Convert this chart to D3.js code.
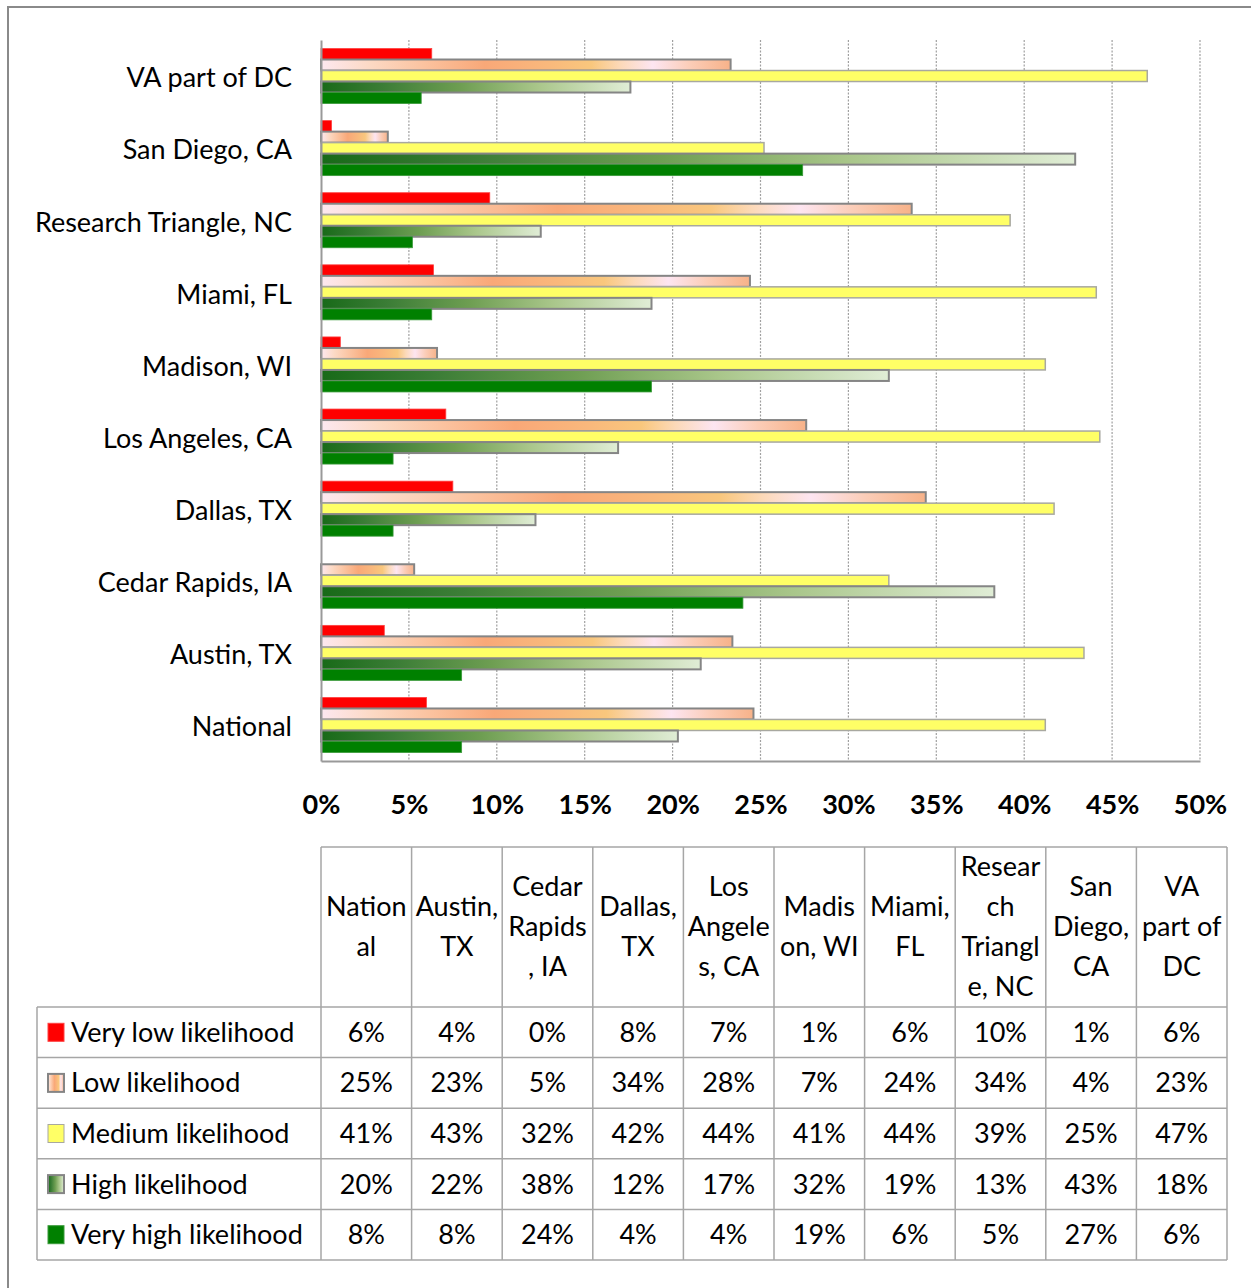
<!DOCTYPE html>
<html>
<head>
<meta charset="utf-8">
<script src="https://cdn.jsdelivr.net/npm/d3@7"></script>
<style>
  html, body { margin: 0; padding: 0; background: #fff; }
  svg { display: block; }
  text { font-family: Lato, "Noto Sans", sans-serif; fill: #000; }
</style>
</head>
<body>
<svg id="chart" width="1251" height="1288"></svg>
<script>
// Categories (table column order; the bar chart lists them bottom-up)
const categories = ["National", "Austin, TX", "Cedar Rapids, IA", "Dallas, TX", "Los Angeles, CA",
  "Madison, WI", "Miami, FL", "Research Triangle, NC", "San Diego, CA", "VA part of DC"];

// Wrapped column headings for the data table
const headerLines = [["Nation", "al"], ["Austin,", "TX"], ["Cedar", "Rapids", ", IA"], ["Dallas,", "TX"],
  ["Los", "Angele", "s, CA"], ["Madis", "on, WI"], ["Miami,", "FL"], ["Resear", "ch", "Triangl", "e, NC"],
  ["San", "Diego,", "CA"], ["VA", "part of", "DC"]];

const seriesNames = ["Very low likelihood", "Low likelihood", "Medium likelihood", "High likelihood", "Very high likelihood"];

// Percent of respondents per likelihood level
const veryLow  = [6.0, 3.6, 0.0, 7.5, 7.1, 1.1, 6.4, 9.6, 0.6, 6.3];
const low      = [24.6, 23.4, 5.3, 34.4, 27.6, 6.6, 24.4, 33.6, 3.8, 23.3];
const medium   = [41.2, 43.4, 32.3, 41.7, 44.3, 41.2, 44.1, 39.2, 25.2, 47.0];
const high     = [20.3, 21.6, 38.3, 12.2, 16.9, 32.3, 18.8, 12.5, 42.9, 17.6];
const veryHigh = [8.0, 8.0, 24.0, 4.1, 4.1, 18.8, 6.3, 5.2, 27.4, 5.7];

const xTicks = [0, 5, 10, 15, 20, 25, 30, 35, 40, 45, 50];

const seriesValues = [veryLow, low, medium, high, veryHigh];
const fmt = v => Math.round(v) + "%";

const svg = d3.select("#chart");
svg.append("rect").attr("width", 1251).attr("height", 1288).attr("fill", "#fff");

// Gradients
const defs = svg.append("defs");
const gLow = defs.append("linearGradient").attr("id", "gradLow");
[[0, "#fde8f0"], [0.12, "#fcd9c4"], [0.25, "#fbc3a0"], [0.4, "#f9a878"], [0.55, "#f9b87c"],
 [0.66, "#f9c77d"], [0.73, "#fcd9b8"], [0.81, "#fde5f1"], [0.9, "#fbcdb8"], [1, "#f7b289"]]
  .forEach(([o, c]) => gLow.append("stop").attr("offset", o).attr("stop-color", c));
const gHigh = defs.append("linearGradient").attr("id", "gradHigh");
[[0, "#186a18"], [0.2, "#3b7d36"], [0.45, "#6e9e52"], [0.7, "#a9c68a"], [1, "#e0edd6"]]
  .forEach(([o, c]) => gHigh.append("stop").attr("offset", o).attr("stop-color", c));

const fills = ["#ff0000", "url(#gradLow)", "#ffff66", "url(#gradHigh)", "#008000"];
const strokes = ["#ff4040", "#858585", "#a8a8a0", "#858585", "#3a9a3a"];
const strokeW = [0.8, 2, 1.5, 2, 0.8];

// Outer frame
svg.append("path").attr("d", "M8,1288 V7 H1251").attr("fill", "none")
  .attr("stroke", "#8a8a8a").attr("stroke-width", 2);

// Bar chart
const plotLeft = 321, plotRight = 1200, plotTop = 40, plotBottom = 761;
const x = d3.scaleLinear().domain([0, 50]).range([plotLeft, plotRight]);
const y = d3.scaleBand().domain(categories.slice().reverse()).range([plotTop, plotBottom])
  .paddingInner(0.237).paddingOuter(0.118);
const ySub = d3.scaleBand().domain(d3.range(5)).range([0, y.bandwidth()]);

// Dotted gridlines
svg.append("g").selectAll("line").data(xTicks.slice(1)).join("line")
  .attr("x1", d => x(d)).attr("x2", d => x(d))
  .attr("y1", plotTop).attr("y2", plotBottom)
  .attr("stroke", "#a0a0a0").attr("stroke-width", 1.2).attr("stroke-dasharray", "2,1.5");

// Bars
const bars = svg.append("g");
categories.forEach((cat, ci) => {
  seriesValues.forEach((vals, si) => {
    const v = vals[ci];
    if (v <= 0) return;
    bars.append("rect")
      .attr("x", x(0))
      .attr("y", y(cat) + ySub(si))
      .attr("width", x(v) - x(0))
      .attr("height", ySub.bandwidth())
      .attr("fill", fills[si])
      .attr("stroke", strokes[si])
      .attr("stroke-width", strokeW[si]);
  });
});

// Axes
const xAxis = d3.axisBottom(x).tickValues(xTicks).tickFormat(d => d + "%").tickSize(0).tickPadding(34);
const gx = svg.append("g").attr("transform", `translate(0,${plotBottom})`).call(xAxis);
gx.select(".domain").attr("stroke", "#999").attr("stroke-width", 2);
gx.selectAll("text").style("font-family", "Lato, sans-serif").attr("font-size", 27)
  .attr("font-weight", "bold").attr("fill", "#000");

const yAxis = d3.axisLeft(y).tickSize(0).tickPadding(29);
const gy = svg.append("g").attr("transform", `translate(${plotLeft},0)`).call(yAxis);
gy.select(".domain").attr("stroke", "#999").attr("stroke-width", 2);
gy.selectAll("text").style("font-family", "Lato, sans-serif").attr("font-size", 27)
  .attr("fill", "#000").attr("dy", "0.42em");

// Data table
const tLeft = 37, tFirst = 321, tRight = 1227, hTop = 847, hBottom = 1007, tBottom = 1260;
const col = d3.scaleBand().domain(categories).range([tFirst, tRight]);
const row = d3.scaleBand().domain(seriesNames).range([hBottom, tBottom]);
const grid = svg.append("g").attr("stroke", "#a6a6a6").attr("stroke-width", 1.5);
grid.append("line").attr("x1", tFirst).attr("x2", tRight).attr("y1", hTop).attr("y2", hTop);
seriesNames.forEach(s => grid.append("line").attr("x1", tLeft).attr("x2", tRight)
  .attr("y1", row(s)).attr("y2", row(s)));
grid.append("line").attr("x1", tLeft).attr("x2", tRight).attr("y1", tBottom).attr("y2", tBottom);
grid.append("line").attr("x1", tLeft).attr("x2", tLeft).attr("y1", hBottom).attr("y2", tBottom);
categories.forEach(c => grid.append("line").attr("x1", col(c)).attr("x2", col(c)).attr("y1", hTop).attr("y2", tBottom));
grid.append("line").attr("x1", tRight).attr("x2", tRight).attr("y1", hTop).attr("y2", tBottom);

// Column headings
const lineH = 40;
categories.forEach((c, i) => {
  const lines = headerLines[i];
  const cy = (hTop + hBottom) / 2;
  lines.forEach((ln, li) => {
    svg.append("text")
      .attr("x", col(c) + col.bandwidth() / 2)
      .attr("y", cy + (li - (lines.length - 1) / 2) * lineH)
      .attr("dy", "0.35em").attr("text-anchor", "middle").attr("font-size", 27)
      .text(ln);
  });
});

// Row labels with legend keys, then values
seriesNames.forEach((s, si) => {
  const cy = row(s) + row.bandwidth() / 2;
  svg.append("rect").attr("x", 48).attr("y", cy - 9).attr("width", 16).attr("height", 18)
    .attr("fill", fills[si]).attr("stroke", strokes[si]).attr("stroke-width", si === 1 || si === 3 ? 2 : 1);
  svg.append("text").attr("x", 71).attr("y", cy).attr("dy", "0.35em").attr("font-size", 27)
    .attr("textLength", si === 1 || si === 3 ? null : null).text(s);
  categories.forEach((c, ci) => {
    svg.append("text")
      .attr("x", col(c) + col.bandwidth() / 2).attr("y", cy).attr("dy", "0.35em")
      .attr("text-anchor", "middle").attr("font-size", 27)
      .text(fmt(seriesValues[si][ci]));
  });
});
</script>
</body>
</html>
